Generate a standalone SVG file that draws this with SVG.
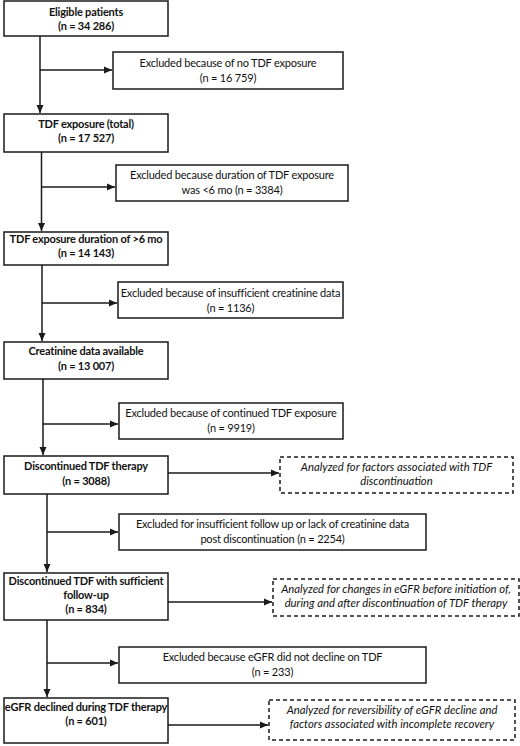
<svg xmlns="http://www.w3.org/2000/svg" width="520" height="746" viewBox="0 0 520 746">
<defs>
<marker id="ah" viewBox="0 0 8 8" refX="8" refY="4" markerWidth="8" markerHeight="8" markerUnits="userSpaceOnUse" orient="auto">
<path d="M0,0.5 L8,4 L0,7.5 z" fill="#1a1a1a"/>
</marker>
</defs>
<style>
.box{fill:#fff;stroke:#1a1a1a;stroke-width:1.5}
.dash{fill:#fff;stroke:#1a1a1a;stroke-width:1.5;stroke-dasharray:4 3}
.c{fill:none;stroke:#1a1a1a;stroke-width:1.5}
text{font-family:Lato,"Liberation Sans",sans-serif;font-size:11px;letter-spacing:-0.2px;fill:#111;text-anchor:middle}
.b{font-weight:bold}
.i{font-style:italic;font-size:11.3px;letter-spacing:0}
</style>
<rect width="520" height="746" fill="#fff"/>
<g id="connectors">
<path class="c" d="M40,36 V113" marker-end="url(#ah)"/>
<path class="c" d="M40,70 H112" marker-end="url(#ah)"/>
<path class="c" d="M41.5,152 V231" marker-end="url(#ah)"/>
<path class="c" d="M41.5,187 H115" marker-end="url(#ah)"/>
<path class="c" d="M42,265 V341" marker-end="url(#ah)"/>
<path class="c" d="M42,303 H117" marker-end="url(#ah)"/>
<path class="c" d="M43,379 V455" marker-end="url(#ah)"/>
<path class="c" d="M43,424 H118" marker-end="url(#ah)"/>
<path class="c" d="M47,494 V572" marker-end="url(#ah)"/>
<path class="c" d="M47,532 H118" marker-end="url(#ah)"/>
<path class="c" d="M168,473 H279" marker-end="url(#ah)"/>
<path class="c" d="M47,620 V697" marker-end="url(#ah)"/>
<path class="c" d="M47,663 H118" marker-end="url(#ah)"/>
<path class="c" d="M168,602 H272" marker-end="url(#ah)"/>
<path class="c" d="M168,725 H268" marker-end="url(#ah)"/>
</g>
<g id="eligible">
<rect class="box" x="4" y="1" width="164" height="35"/>
<text class="b" x="86" y="16">Eligible patients</text>
<text class="b" x="86" y="30">(n = 34 286)</text>
</g>
<g id="excl-no-tdf">
<rect class="box" x="113" y="52" width="230" height="37"/>
<text x="228" y="67">Excluded because of no TDF exposure</text>
<text x="228" y="82">(n = 16 759)</text>
</g>
<g id="tdf-total">
<rect class="box" x="4" y="114" width="164" height="38"/>
<text class="b" x="86" y="128">TDF exposure (total)</text>
<text class="b" x="86" y="142">(n = 17 527)</text>
</g>
<g id="excl-duration">
<rect class="box" x="116" y="165" width="232" height="36"/>
<text x="232" y="179">Excluded because duration of TDF exposure</text>
<text x="232" y="194">was &lt;6 mo  (n = 3384)</text>
</g>
<g id="tdf-6mo">
<rect class="box" x="4" y="232" width="164" height="33"/>
<text class="b" x="86" y="243">TDF exposure duration of &gt;6 mo</text>
<text class="b" x="86" y="257">(n = 14 143)</text>
</g>
<g id="excl-creat">
<rect class="box" x="118" y="282" width="225" height="36"/>
<text x="230.5" y="297">Excluded because of insufficient creatinine data</text>
<text x="230.5" y="312">(n = 1136)</text>
</g>
<g id="creat-avail">
<rect class="box" x="4" y="342" width="164" height="37"/>
<text class="b" x="86" y="355">Creatinine data available</text>
<text class="b" x="86" y="370">(n = 13 007)</text>
</g>
<g id="excl-continued">
<rect class="box" x="119" y="403" width="224" height="36"/>
<text x="231" y="417">Excluded because of continued TDF exposure</text>
<text x="231" y="432">(n = 9919)</text>
</g>
<g id="discontinued">
<rect class="box" x="4" y="456" width="164" height="38"/>
<text class="b" x="86" y="470">Discontinued TDF therapy</text>
<text class="b" x="86" y="485">(n = 3088)</text>
</g>
<g id="analyzed-discontinuation">
<rect class="dash" x="280" y="457" width="233" height="36"/>
<text class="i" x="396.5" y="471">Analyzed for factors associated with TDF</text>
<text class="i" x="396.5" y="485">discontinuation</text>
</g>
<g id="excl-followup">
<rect class="box" x="119" y="514" width="307" height="36"/>
<text x="272.5" y="528">Excluded for insufficient follow up or lack of creatinine data</text>
<text x="272.5" y="543">post discontinuation (n = 2254)</text>
</g>
<g id="sufficient-followup">
<rect class="box" x="4" y="573" width="164" height="47"/>
<text class="b" x="86" y="585">Discontinued TDF with sufficient</text>
<text class="b" x="86" y="599">follow-up</text>
<text class="b" x="86" y="613">(n = 834)</text>
</g>
<g id="analyzed-changes">
<rect class="dash" x="273" y="579" width="246" height="37"/>
<text class="i" x="396" y="593">Analyzed for changes in eGFR before initiation of,</text>
<text class="i" x="396" y="607">during and after discontinuation of TDF therapy</text>
</g>
<g id="excl-no-decline">
<rect class="box" x="119" y="647" width="307" height="36"/>
<text x="272.5" y="661">Excluded because eGFR did not decline on TDF</text>
<text x="272.5" y="676">(n = 233)</text>
</g>
<g id="egfr-declined">
<rect class="box" x="4" y="698" width="164" height="45"/>
<text class="b" x="86" y="711">eGFR declined during TDF therapy</text>
<text class="b" x="86" y="725">(n = 601)</text>
</g>
<g id="analyzed-reversibility">
<rect class="dash" x="269" y="700" width="246" height="40"/>
<text class="i" x="392" y="714">Analyzed for reversibility of eGFR decline and</text>
<text class="i" x="392" y="728">factors associated with incomplete recovery</text>
</g>
</svg>
